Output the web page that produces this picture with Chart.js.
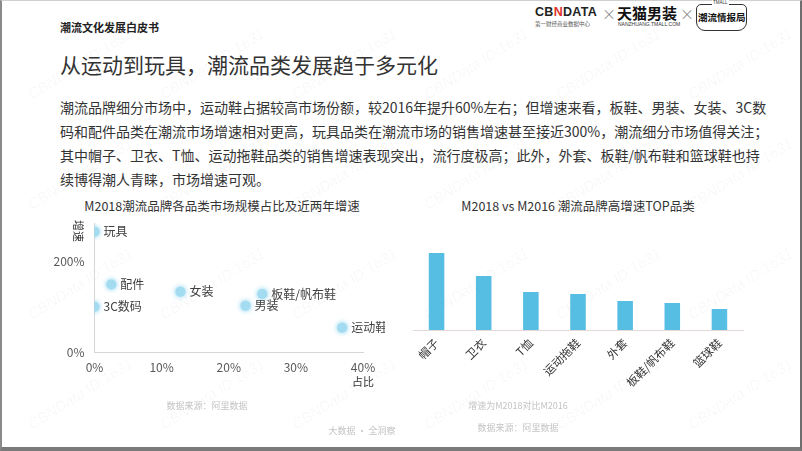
<!DOCTYPE html>
<html>
<head>
<meta charset="utf-8">
<script src="https://cdn.jsdelivr.net/npm/chart.js@4.4.1/dist/chart.umd.min.js"></script>
<style>
  html,body{margin:0;padding:0;background:#fff;}
  body{width:802px;height:451px;position:relative;overflow:hidden;font-family:"Noto Sans CJK SC","Noto Sans",sans-serif;color:#333;}
  .frame{position:absolute;left:0;top:0;width:798px;height:446px;border-left:2px solid #8a8a8a;border-top:1px solid #d0d0d0;border-right:2px solid #6e6e6e;border-bottom:4px solid #7a7a7a;}
  .abs{position:absolute;white-space:nowrap;}
  .wm{position:absolute;white-space:nowrap;font-family:Arial,"Liberation Sans",sans-serif;font-style:italic;font-size:15px;color:rgba(0,0,0,0.04);transform:rotate(-32deg);}
  .foot{position:absolute;white-space:nowrap;font-size:9px;color:#c4c4c4;transform:translateX(-50%);}
</style>
</head>
<body>
<div class="frame"></div>
<div id="wms"></div>

<div class="abs" style="left:60px;top:19px;font-size:11px;font-weight:bold;color:#222;">潮流文化发展白皮书</div>

<!-- logos -->
<div class="abs" style="left:535px;top:5px;font-family:'Liberation Sans',Arial,sans-serif;font-weight:bold;font-size:12.5px;letter-spacing:0.3px;color:#222;">CB<span style="color:#e0302a">N</span>DATA</div>
<div class="abs" style="left:535px;top:20px;font-size:5.5px;color:#555;">第一财经商业数据中心</div>
<div class="abs" style="left:602px;top:3px;font-size:14px;color:#777;font-weight:300;">×</div>
<div class="abs" style="left:617px;top:2px;font-size:15px;font-weight:bold;color:#111;">天猫男装</div>
<div class="abs" style="left:618px;top:21px;font-size:5px;font-family:'Liberation Sans',Arial,sans-serif;color:#333;">NANZHUANG.TMALL.COM</div>
<div class="abs" style="left:680px;top:3px;font-size:14px;color:#777;font-weight:300;">×</div>
<div class="abs" style="left:696px;top:4px;width:49px;height:25px;border:1.2px solid #333;border-radius:5px 5px 9px 9px;"></div>
<div class="abs" style="left:712px;top:0px;font-size:4.5px;font-family:'Liberation Sans',Arial,sans-serif;color:#333;background:#fff;padding:0 1px;">TMALL</div>
<div class="abs" style="left:698px;top:10px;font-size:9.5px;font-weight:bold;color:#111;">潮流情报局</div>

<div class="abs" style="left:60px;top:49px;font-size:21px;color:#333;">从运动到玩具，潮流品类发展趋于多元化</div>

<div class="abs" style="left:60px;top:95px;font-size:14px;line-height:24px;color:#333;">潮流品牌细分市场中，运动鞋占据较高市场份额，较2016年提升60%左右；但增速来看，板鞋、男装、女装、3C数<br>码和配件品类在潮流市场增速相对更高，玩具品类在潮流市场的销售增速甚至接近300%，潮流细分市场值得关注；<br>其中帽子、卫衣、T恤、运动拖鞋品类的销售增速表现突出，流行度极高；此外，外套、板鞋/帆布鞋和篮球鞋也持<br>续博得潮人青睐，市场增速可观。</div>

<div class="abs" style="left:222px;top:196px;font-size:12.5px;color:#333;transform:translateX(-50%);">M2018潮流品牌各品类市场规模占比及近两年增速</div>
<div class="abs" style="left:578px;top:196px;font-size:12.5px;color:#333;transform:translateX(-50%);">M2018 vs M2016 潮流品牌高增速TOP品类</div>

<div style="position:absolute;left:40px;top:215px;width:345px;height:180px;"><canvas id="sc"></canvas></div>
<div style="position:absolute;left:405px;top:225px;width:346px;height:175px;"><canvas id="bc"></canvas></div>

<div class="abs" style="left:68px;top:223px;font-size:11px;color:#333;transform:rotate(90deg);transform-origin:50% 50%;">增速</div>
<div class="abs" style="left:352px;top:373px;font-size:11px;color:#333;">占比</div>

<div class="foot" style="left:207px;top:399px;">数据来源：阿里数据</div>
<div class="foot" style="left:518px;top:399px;">增速为M2018对比M2016</div>
<div class="foot" style="left:518px;top:421px;">数据来源：阿里数据</div>
<div class="foot" style="left:362px;top:424px;">大数据 · 全洞察</div>

<script>
// ---- data ----
const scatterCategories = ['玩具','配件','3C数码','女装','板鞋/帆布鞋','男装','运动鞋'];
const marketShare = [0, 2.5, 0, 12.8, 25, 22.5, 36.9];      // 占比 %
const growthRate = [266, 150, 101, 134, 129, 103, 55];       // 增速 %
const scatterYTicks = [0, 200];

const barCategories = ['帽子','卫衣','T恤','运动拖鞋','外套','板鞋/帆布鞋','篮球鞋'];
const barValues = [77, 54, 38, 36, 29, 27, 21];

// ---- watermarks (decorative) ----
(function(){
  const box = document.getElementById('wms');
  for (let r = 0; r < 4; r++) {
    for (let c = 0; c < 6; c++) {
      const d = document.createElement('div');
      d.className = 'wm';
      d.textContent = 'CBNData ID:1631';
      d.style.left = (20 + c*132) + 'px';
      d.style.top = (55 + r*110) + 'px';
      box.appendChild(d);
    }
  }
})();

const FONT = '"Noto Sans CJK SC","Noto Sans",sans-serif';

// ---- scatter ----
const labelPlugin = {
  id: 'pointLabels',
  beforeDatasetDraw(chart){ const c = chart.ctx; c.save(); c.shadowColor='rgba(110,200,235,0.9)'; c.shadowBlur=5; },
  afterDatasetDraw(chart){ chart.ctx.restore(); },
  afterDatasetsDraw(chart){
    const ctx = chart.ctx;
    const meta = chart.getDatasetMeta(0);
    ctx.save();
    ctx.font = '12px ' + FONT;
    ctx.fillStyle = '#404040';
    ctx.textBaseline = 'middle';
    ctx.textAlign = 'left';
    meta.data.forEach((pt, i) => { ctx.fillText(scatterCategories[i], pt.x + 9, pt.y); });
    ctx.restore();
  }
};

new Chart(document.getElementById('sc'), {
  type: 'scatter',
  data: {
    datasets: [{
      data: marketShare.map((x, i) => ({x: x, y: growthRate[i]})),
      backgroundColor: '#a3dbf0',
      borderWidth: 0,
      pointRadius: 5,
      pointHoverRadius: 5
    }]
  },
  options: {
    responsive: true, maintainAspectRatio: false, animation: false,
    layout: { padding: { top: 8, right: 22, left: 0, bottom: 0 } },
    plugins: { legend: { display: false }, tooltip: { enabled: false } },
    scales: {
      x: {
        type: 'linear', min: 0, max: 40,
        grid: { display: false, drawTicks: false },
        border: { display: true, color: '#d6d6d6', width: 1 },
        ticks: { stepSize: 10, padding: 8, color: '#595959', font: { size: 12, family: FONT }, callback: v => v + '%' },
        afterFit(s){ s.height = 42.3; s.paddingLeft = 0; s.paddingRight = 0; }
      },
      y: {
        type: 'linear', min: 0, max: 285,
        grid: { display: false, drawTicks: false },
        border: { display: true, color: '#d6d6d6', width: 1 },
        ticks: { padding: 10, color: '#595959', font: { size: 12, family: FONT }, callback: v => v + '%' },
        afterBuildTicks(s){ s.ticks = scatterYTicks.map(v => ({value: v})); },
        afterFit(s){ s.width = 54.5; s.paddingTop = 0; s.paddingBottom = 0; }
      }
    }
  },
  plugins: [labelPlugin]
});

// ---- bar ----
new Chart(document.getElementById('bc'), {
  type: 'bar',
  data: {
    labels: barCategories,
    datasets: [{ data: barValues, backgroundColor: '#57bee3', categoryPercentage: 1, barPercentage: 0.33 }]
  },
  options: {
    responsive: true, maintainAspectRatio: false, animation: false,
    layout: { padding: { top: 5, right: 8, left: 8, bottom: 0 } },
    plugins: { legend: { display: false }, tooltip: { enabled: false } },
    scales: {
      x: {
        grid: { display: false, drawTicks: false },
        border: { display: true, color: '#e3d9d9', width: 1 },
        ticks: { minRotation: 45, maxRotation: 45, padding: 6, color: '#333', font: { size: 11.5, family: FONT }, autoSkip: false },
        afterFit(s){ s.height = 70; s.paddingLeft = 0; s.paddingRight = 0; }
      },
      y: { display: false, min: 0, max: 100 }
    }
  }
});
</script>
</body>
</html>
